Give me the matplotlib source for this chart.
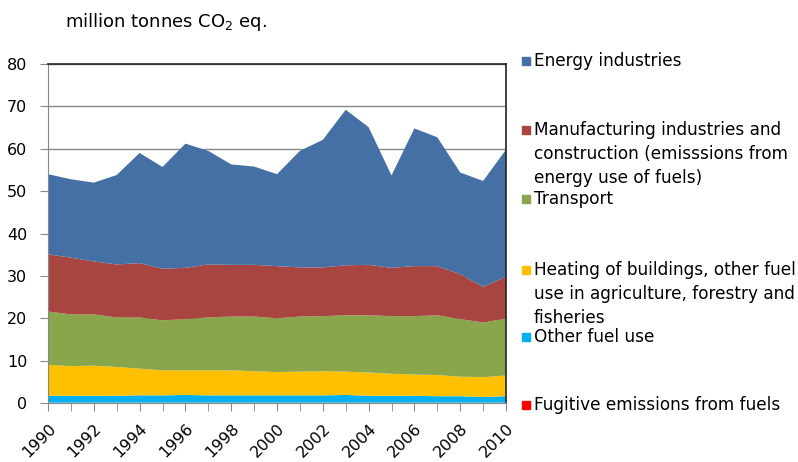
import matplotlib
matplotlib.use("Agg")
import matplotlib.pyplot as plt
from matplotlib.patches import Rectangle

plt.rcParams['font.family'] = ['DejaVu Sans']
plt.rcParams['mathtext.fontset'] = 'dejavusans'

years = list(range(1990, 2011))
fugitive = [0.1] * 21
other = [1.6, 1.6, 1.6, 1.6, 1.7, 1.7, 1.8, 1.7, 1.7, 1.7, 1.7,
         1.7, 1.7, 1.8, 1.6, 1.6, 1.6, 1.5, 1.5, 1.3, 1.5]
heating = [7.3, 7.0, 7.1, 6.8, 6.3, 5.9, 5.8, 5.9, 5.9, 5.7, 5.5,
           5.6, 5.7, 5.5, 5.5, 5.2, 5.0, 5.0, 4.6, 4.7, 4.9]
transport = [12.6, 12.2, 12.1, 11.7, 12.1, 11.8, 12.1, 12.5, 12.7, 12.9, 12.7,
             13.0, 13.0, 13.3, 13.5, 13.6, 13.8, 14.1, 13.6, 12.9, 13.4]
manufacturing = [13.5, 13.4, 12.5, 12.5, 12.8, 12.2, 12.1, 12.5, 12.2, 12.2, 12.3,
                 11.6, 11.5, 11.8, 11.9, 11.4, 11.8, 11.6, 10.6, 8.4, 9.9]
energy = [18.9, 18.5, 18.6, 21.1, 26.0, 24.0, 29.3, 26.8, 23.7, 23.2, 21.7,
          27.5, 30.1, 36.7, 32.5, 21.8, 32.5, 30.4, 24.0, 25.0, 30.0]

labels = ["Fugitive emissions from fuels",
          "Other fuel use",
          "Heating of buildings, other fuel\nuse in agriculture, forestry and\nfisheries",
          "Transport",
          "Manufacturing industries and\nconstruction (emisssions from\nenergy use of fuels)",
          "Energy industries"]
colors = ['#FF0000', '#00B0F0', '#FFC000', '#8AA64C', '#A84541', '#4470A6']

fig = plt.figure(figsize=(7.98, 4.62), dpi=100)
W, H = 798, 462
ax = fig.add_axes([48 / W, 1 - 403 / H, (506 - 48) / W, (403 - 64) / H])

ax.stackplot(years, fugitive, other, heating, transport, manufacturing, energy,
             colors=colors, linewidth=0, zorder=2)

ax.set_xlim(1990, 2010)
ax.set_ylim(0, 80)
ax.set_yticks(range(0, 81, 10))
ax.set_xticks(years, minor=True)
ax.set_xticks(years[::2])
ax.set_xticklabels([str(y) for y in years[::2]], rotation=45, ha='right',
                   rotation_mode='anchor', fontsize=11.5)
ax.tick_params(axis='y', labelsize=11.5, length=6, color='#888888', pad=9)
ax.tick_params(axis='x', which='both', length=6, color='#888888', pad=7)
ax.grid(axis='y', color='#888888', linewidth=1, zorder=1)
ax.set_axisbelow(True)
for s in ['left', 'bottom']:
    ax.spines[s].set_color('#888888')
for s in ['top', 'right']:
    ax.spines[s].set_color('#222222')
    ax.spines[s].set_linewidth(1.2)

fig.text(65 / W, 1 - 22 / H, r"million tonnes CO$_{\mathrm{2}}$ eq.", fontsize=13,
         va='center', ha='left')

# legend, placed like the original (Excel style spacing); y = first line
leg_y = [405, 337, 270, 199, 130, 61]
for lab, col, y in zip(labels, colors, leg_y):
    fig.patches.append(Rectangle((522 / W, 1 - (y + 4) / H), 8 / W, 8 / H,
                                 transform=fig.transFigure, color=col))
    fig.text(534 / W, 1 - (y - 9) / H, lab, fontsize=12.2, va='top', ha='left',
             linespacing=1.42)

fig.savefig("out.png", dpi=100)
